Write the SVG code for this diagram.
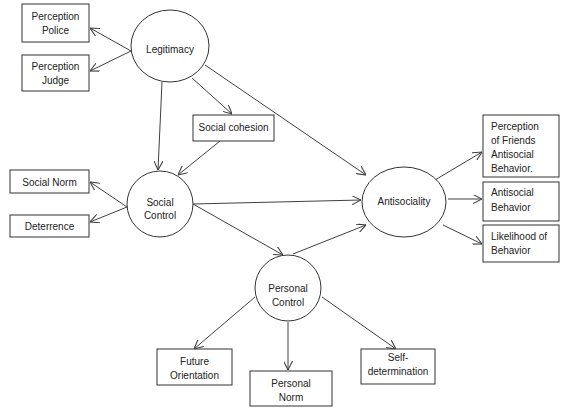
<svg xmlns="http://www.w3.org/2000/svg" width="569" height="416" viewBox="0 0 569 416">
<style>
.box{fill:#fff;stroke:#333;stroke-width:1}
.el{fill:#fff;stroke:#333;stroke-width:1}
text{font-family:"Liberation Sans",Arial,sans-serif;font-size:10px;fill:#222}
.c{text-anchor:middle}
.conn line{stroke:#404040;stroke-width:1;marker-end:url(#arr)}
</style>
<defs>
<marker id="arr" viewBox="0 0 10 10" refX="10" refY="5" markerWidth="9" markerHeight="9" markerUnits="userSpaceOnUse" orient="auto">
<path d="M0,0 L10,5 L0,10" fill="none" stroke="#404040" stroke-width="1.2"/>
</marker>
</defs>
<rect width="569" height="416" fill="#fff"/>
<g class="conn">
<line x1="131" y1="51" x2="90" y2="28"/>
<line x1="131" y1="51" x2="90" y2="71"/>
<line x1="192" y1="78" x2="232" y2="114"/>
<line x1="162" y1="82" x2="158" y2="170"/>
<line x1="205" y1="65" x2="366" y2="175"/>
<line x1="220" y1="141" x2="178" y2="175"/>
<line x1="127" y1="207" x2="90" y2="182"/>
<line x1="127" y1="207" x2="90" y2="222"/>
<line x1="193" y1="204" x2="361" y2="200"/>
<line x1="193" y1="204" x2="283" y2="255"/>
<line x1="293" y1="254" x2="366" y2="225"/>
<line x1="435" y1="180" x2="482" y2="152"/>
<line x1="448" y1="199" x2="482" y2="199"/>
<line x1="443" y1="225" x2="482" y2="244"/>
<line x1="255" y1="297" x2="194" y2="349"/>
<line x1="288" y1="322" x2="288" y2="370"/>
<line x1="322" y1="297" x2="396" y2="349"/>
</g>
<g id="perception-police"><rect class="box" x="22" y="4" width="67" height="38"/><text class="c" x="55.5" y="20">Perception</text><text class="c" x="55.5" y="34">Police</text></g>
<g id="perception-judge"><rect class="box" x="22" y="55" width="67" height="36"/><text class="c" x="55.5" y="70">Perception</text><text class="c" x="55.5" y="84">Judge</text></g>
<g id="legitimacy"><ellipse class="el" cx="170" cy="46" rx="39" ry="36"/><text class="c" x="170" y="53">Legitimacy</text></g>
<g id="social-cohesion"><rect class="box" x="193" y="115" width="81" height="26"/><text class="c" x="233.5" y="131">Social cohesion</text></g>
<g id="social-norm"><rect class="box" x="10" y="170" width="79" height="23"/><text class="c" x="49.5" y="186">Social Norm</text></g>
<g id="deterrence"><rect class="box" x="10" y="215" width="79" height="22"/><text class="c" x="49.5" y="230">Deterrence</text></g>
<g id="social-control"><ellipse class="el" cx="160" cy="204" rx="33" ry="33"/><text class="c" x="160" y="206">Social</text><text class="c" x="160" y="219">Control</text></g>
<g id="antisociality"><ellipse class="el" cx="404" cy="202" rx="42" ry="35"/><text class="c" x="404" y="205">Antisociality</text></g>
<g id="perception-friends"><rect class="box" x="483" y="115" width="76" height="62"/><text x="491" y="130">Perception</text><text x="491" y="144">of Friends</text><text x="491" y="158">Antisocial</text><text x="491" y="172">Behavior.</text></g>
<g id="antisocial-behavior"><rect class="box" x="483" y="182" width="76" height="39"/><text x="491" y="196">Antisocial</text><text x="491" y="211">Behavior</text></g>
<g id="likelihood"><rect class="box" x="483" y="225" width="76" height="37"/><text x="491" y="240">Likelihood of</text><text x="491" y="254">Behavior</text></g>
<g id="personal-control"><ellipse class="el" cx="288" cy="288" rx="33" ry="33"/><text class="c" x="288" y="292">Personal</text><text class="c" x="288" y="306">Control</text></g>
<g id="future-orientation"><rect class="box" x="157" y="349" width="75" height="36"/><text class="c" x="194.5" y="365">Future</text><text class="c" x="194.5" y="379">Orientation</text></g>
<g id="personal-norm"><rect class="box" x="250" y="371" width="82" height="35"/><text class="c" x="291" y="387">Personal</text><text class="c" x="291" y="401">Norm</text></g>
<g id="self-determination"><rect class="box" x="361" y="349" width="74" height="35"/><text class="c" x="398" y="361">Self-</text><text class="c" x="398" y="375">determination</text></g>
</svg>
